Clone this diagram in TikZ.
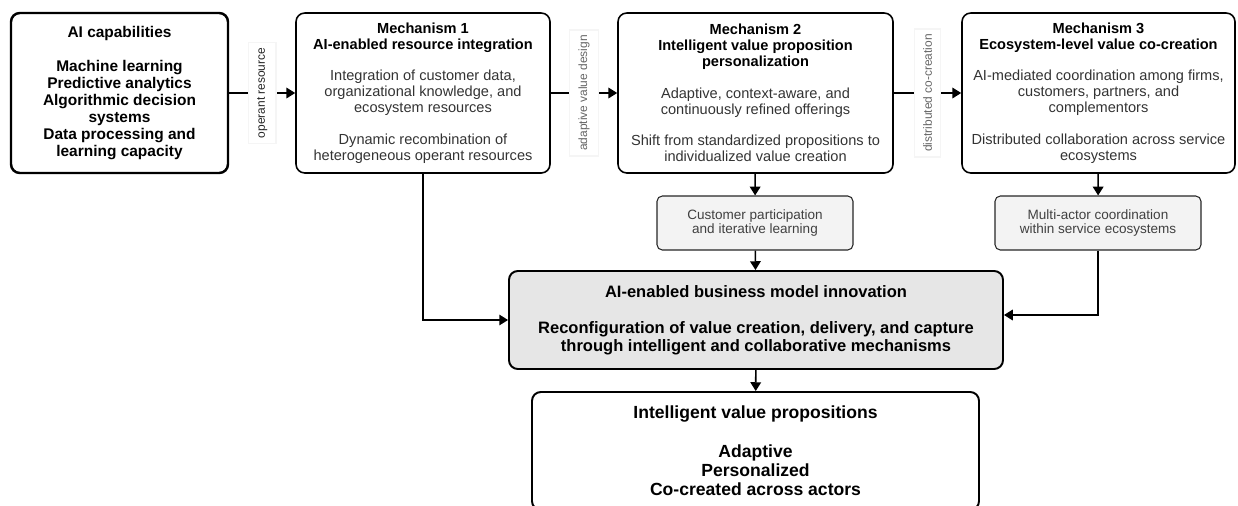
\documentclass[tikz,border=0pt]{standalone}
\usepackage{fontspec}
\setmainfont{Liberation Sans}
\usepackage{xcolor}
\usetikzlibrary{arrows.meta, positioning}
\definecolor{bmgray}{HTML}{E6E6E6}
\definecolor{stepgray}{HTML}{F3F3F3}
\definecolor{bodytext}{HTML}{333333}
\newcommand{\mhead}[1]{\textcolor{black}{\textbf{#1}}}

\begin{document}
\begin{tikzpicture}[
  capbox/.style={rounded corners=5pt, draw=black, line width=1.4pt,
                 minimum width=4.34cm, minimum height=3.2cm, align=center,
                 font=\fontsize{8.8}{9.75}\selectfont\bfseries},
  mechbox/.style={rounded corners=5pt, draw=black, line width=0.9pt,
                  minimum height=3.2cm, align=center, text=bodytext,
                  font=\fontsize{8.3}{9.07}\selectfont},
  stepbox/.style={rounded corners=3pt, draw=black!85, line width=0.6pt, fill=stepgray,
                  minimum height=1.08cm, align=center, text=black!75,
                  font=\fontsize{7.7}{8.5}\selectfont},
  bmibox/.style={rounded corners=5pt, draw=black, line width=1.1pt, fill=bmgray,
                 minimum width=9.88cm, minimum height=1.96cm, align=center,
                 font=\fontsize{9.4}{10.2}\selectfont\bfseries},
  ivpbox/.style={rounded corners=5pt, draw=black, line width=1.1pt,
                 minimum width=8.94cm, minimum height=2.36cm, align=center,
                 font=\fontsize{10}{11}\selectfont\bfseries},
  flow/.style={-{Triangle[length=5pt, width=6pt]}, line width=0.9pt},
  lbl/.style={rotate=90, fill=white, draw=black!4, inner xsep=3pt, inner ysep=5pt,
              font=\fontsize{6.8}{7}\selectfont},
]
  \useasboundingbox (0,0) rectangle (24.76,-10.10);

  % Top row
  \node[capbox] (ai) at (2.39,-1.86) {AI capabilities\\[9.75pt]
    Machine learning\\Predictive analytics\\Algorithmic decision\\systems\\
    Data processing and\\learning capacity};

  \node[mechbox, minimum width=5.08cm] (m1) at (8.46,-1.86) {\mhead{Mechanism 1}\\
    \mhead{AI-enabled resource integration}\\[9pt]
    Integration of customer data,\\organizational knowledge, and\\ecosystem resources\\[9pt]
    Dynamic recombination of\\heterogeneous operant resources};

  \node[mechbox, minimum width=5.5cm] (m2) at (15.11,-1.86) {\mhead{Mechanism 2}\\
    \mhead{Intelligent value proposition}\\\mhead{personalization}\\[9pt]
    Adaptive, context-aware, and\\continuously refined offerings\\[9pt]
    Shift from standardized propositions to\\individualized value creation};

  \node[mechbox, minimum width=5.46cm] (m3) at (21.97,-1.86) {\mhead{Mechanism 3}\\
    \mhead{Ecosystem-level value co-creation}\\[9pt]
    AI-mediated coordination among firms,\\customers, partners, and\\complementors\\[9pt]
    Distributed collaboration across service\\ecosystems};

  % Intermediate steps
  \node[stepbox, minimum width=3.92cm] (cust) at (15.10,-4.46)
    {Customer participation\\and iterative learning};
  \node[stepbox, minimum width=4.12cm] (multi) at (21.96,-4.46)
    {Multi-actor coordination\\within service ecosystems};

  % Outcome
  \node[bmibox] (bmi) at (15.12,-6.40) {AI-enabled business model innovation\\[10.2pt]
    Reconfiguration of value creation, delivery, and capture\\
    through intelligent and collaborative mechanisms};
  \node[ivpbox] (ivp) at (15.11,-9.02) {Intelligent value propositions\\[11pt]
    Adaptive\\Personalized\\Co-created across actors};

  % Arrows
  \foreach \a/\b/\t/\c in {ai/m1/operant resource/black!85,
                           m1/m2/adaptive value design/black!60,
                           m2/m3/distributed co-creation/black!60}
    \draw[flow] (\a) -- node[lbl, text=\c] {\t} (\b);

  \draw[flow] (m1.south) |- (bmi.west);
  \draw[flow] (m2) -- (cust);
  \draw[flow] (cust) -- (bmi);
  \draw[flow] (m3) -- (multi);
  \draw[flow] (multi.south) |- ([yshift=0.1cm]bmi.east);
  \draw[flow] (bmi) -- (ivp);
\end{tikzpicture}
\end{document}
